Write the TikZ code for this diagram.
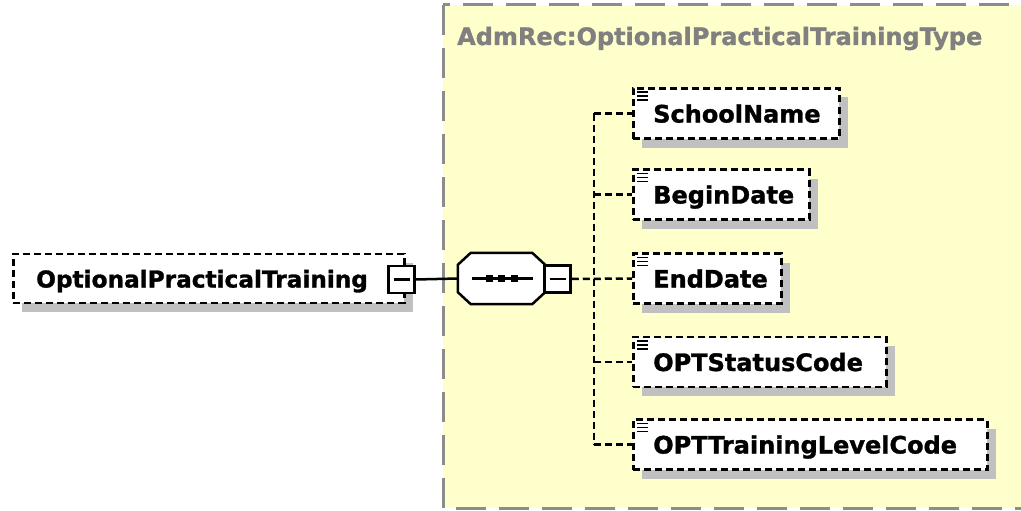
\documentclass[tikz,border=0pt]{standalone}
\usepackage{fontspec}
\setmainfont{DejaVu Sans}[BoldFeatures={FakeBold=1.3}]
\usetikzlibrary{shadows}
\definecolor{ybg}{HTML}{FFFFCC}
\definecolor{yborder}{HTML}{8C8C8C}
\definecolor{shdc}{HTML}{C0C0C0}
\definecolor{ttl}{HTML}{808080}
\begin{document}
\begin{tikzpicture}[x=1pt,y=-1pt,
  every node/.style={font=\fontsize{24}{28}\selectfont\bfseries},
  shd/.style={drop shadow={fill=shdc, opacity=1, shadow xshift=9pt, shadow yshift=-9pt}},
  elem/.style={draw, line width=2.5pt, dash pattern=on 7pt off 4pt, fill=white,
    minimum height=50pt, inner xsep=20pt, inner ysep=0pt, text height=18pt, text depth=0pt,
    align=left, anchor=west, shd},
  minus/.style={draw, line width=2.5pt, fill=white, minimum width=26pt, minimum height=27pt, inner sep=0pt,
    path picture={\draw[line width=2.5pt] ([xshift=5pt]path picture bounding box.west) -- ([xshift=-5pt]path picture bounding box.east);}},
  conn/.style={line width=2.5pt, dash pattern=on 7pt off 4pt},
]
\clip (0,0) rectangle (1021,511);
\fill[white] (0,0) rectangle (1021,511);
% type box
\draw[yborder, line width=3pt, fill=ybg, dash pattern=on 30pt off 13pt] (443,5) rectangle (1040,508);
\node[ttl, anchor=base west, inner sep=0pt] (title) at (457,45) {AdmRec:OptionalPracticalTrainingType};

% main element
\node[elem, text width=345pt, inner xsep=23pt, minimum height=49pt,
  font=\fontsize{23.2}{28}\selectfont\bfseries] (opt) at (12,278.5) {OptionalPracticalTraining};
\node[minus] (m1) at (401.5,279.5) {};

% sequence compositor
\node[minimum width=87pt, minimum height=51pt, inner sep=0pt] (seq) at (501.5,278.5) {};
\fill[shdc, shift={(10,10)}] ([xshift=13pt]seq.north west) -- ([xshift=-13pt]seq.north east) -- ([yshift=-12pt]seq.north east) -- ([yshift=12pt]seq.south east) -- ([xshift=-13pt]seq.south east) -- ([xshift=13pt]seq.south west) -- ([yshift=12pt]seq.south west) -- ([yshift=-12pt]seq.north west) -- cycle;
\draw[line width=2.5pt, fill=white] ([xshift=13pt]seq.north west) -- ([xshift=-13pt]seq.north east) -- ([yshift=-12pt]seq.north east) -- ([yshift=12pt]seq.south east) -- ([xshift=-13pt]seq.south east) -- ([xshift=13pt]seq.south west) -- ([yshift=12pt]seq.south west) -- ([yshift=-12pt]seq.north west) -- cycle;
\draw[line width=2.5pt] ([xshift=14pt]seq.west) -- ([xshift=-12pt]seq.east);
\foreach \dx in {-12.5,0,12.5}
  \fill ([xshift=\dx pt]seq.center) ++(-3.5,-3.5) rectangle ++(7,7);
\node[minus] (m2) at (557.5,279) {};

\draw[line width=2.5pt] (m1.east) -- (seq.west);

% children
\node[elem, text width=166pt] (c1) at (632,113.5) {SchoolName};
\node[elem, text width=136pt] (c2) at (632,194.5) {BeginDate};
\node[elem, text width=108pt] (c3) at (632,278.5) {EndDate};
\node[elem, text width=213pt] (c4) at (632,362) {OPTStatusCode};
\node[elem, text width=314pt] (c5) at (632,444.5) {OPTTrainingLevelCode};
\foreach \n in {c1,c2,c3,c4,c5}
  \foreach \d in {5,9,13}
    \draw[line width=1.5pt] ([xshift=5pt,yshift=-\d pt]\n.north west) -- ++(11,0);

% connectors
\coordinate (tr) at (594,279);
\draw[conn] (tr |- c1.west) -- (tr |- c5.west);
\foreach \n in {c1,c2,c4,c5}
  \draw[conn] (tr |- \n.west) -- (\n.west);
\draw[conn] (m2.east) -- (c3.west);
\end{tikzpicture}
\end{document}
